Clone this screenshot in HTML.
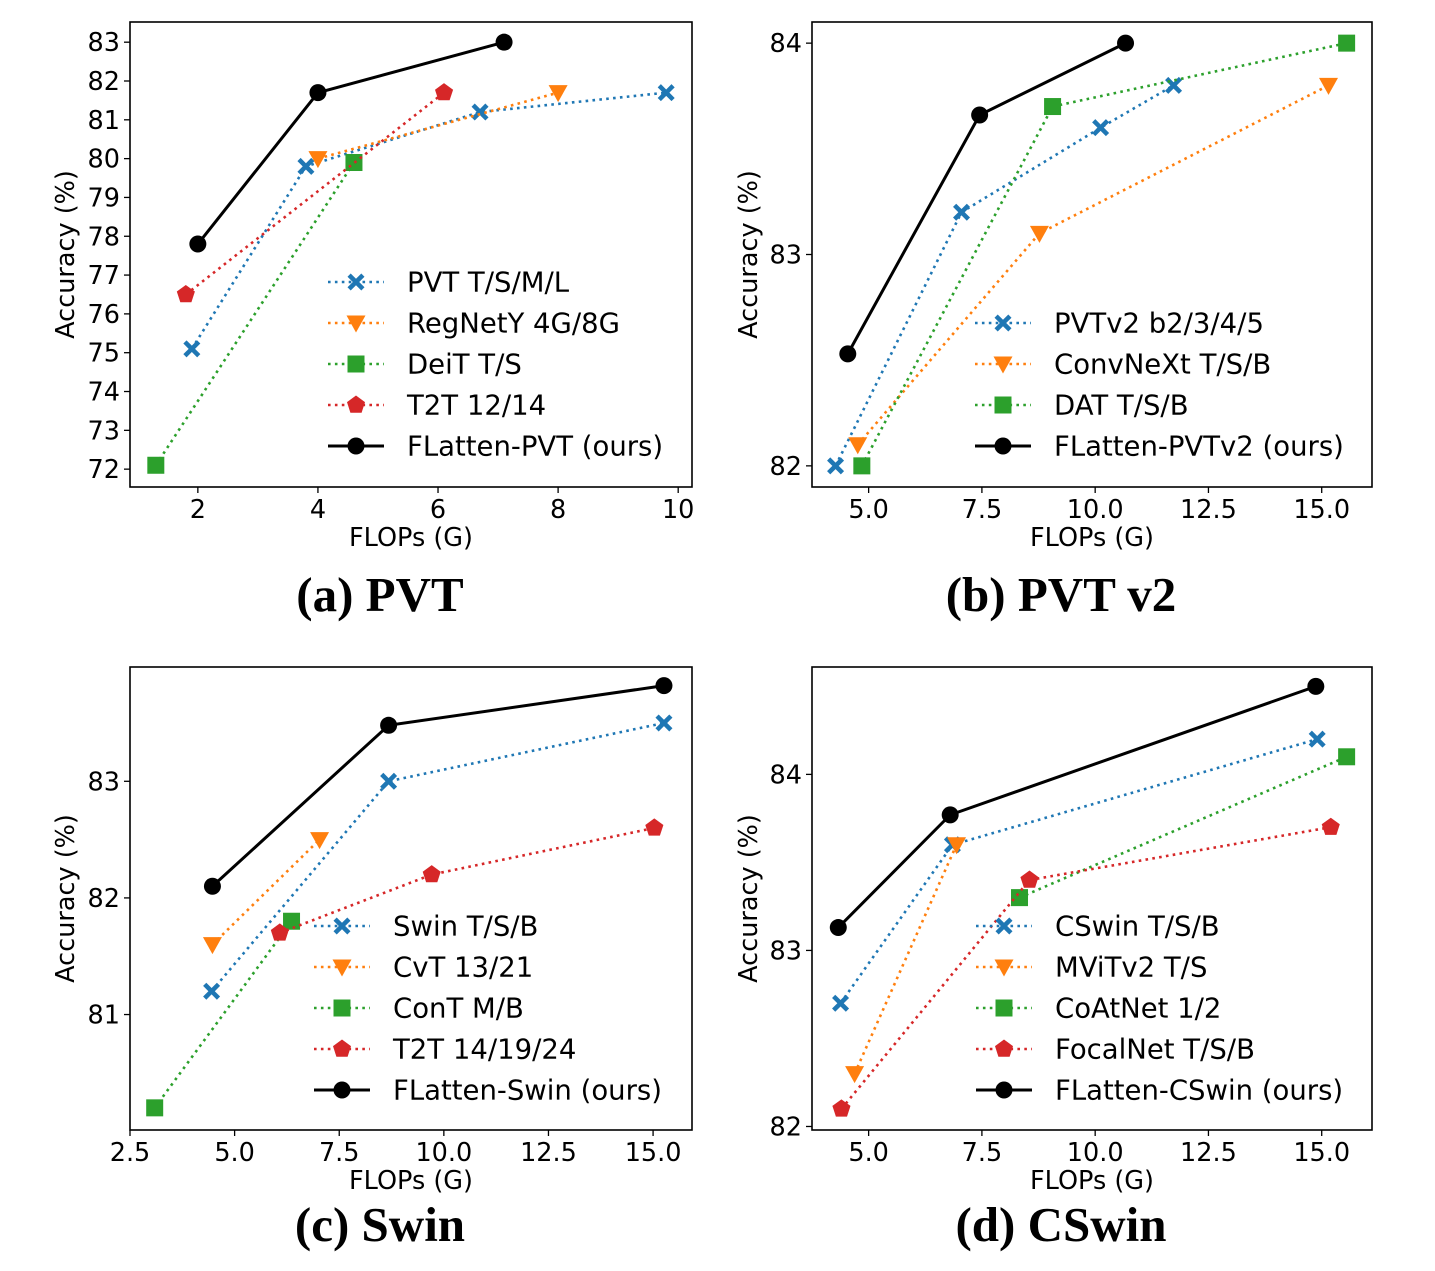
<!DOCTYPE html>
<html><head><meta charset="utf-8"><style>
html,body{margin:0;padding:0;background:#fff;}
svg text{font-family:"DejaVu Sans","Liberation Sans",sans-serif;}
.ttl{font-family:"Liberation Serif",serif;font-weight:bold;}
</style></head><body>
<svg id="fig" width="1435" height="1266" viewBox="0 0 1435 1266" xmlns="http://www.w3.org/2000/svg"></svg>
<script>
// ---- Panel (a) PVT data ----
const aNames = ["PVT T/S/M/L","RegNetY 4G/8G","DeiT T/S","T2T 12/14","FLatten-PVT (ours)"];
const aX = [[1.9,3.8,6.7,9.8],[4.0,8.0],[1.3,4.6],[1.8,6.1],[2.0,4.0,7.1]];
const aY = [[75.1,79.8,81.2,81.7],[80.0,81.7],[72.1,79.9],[76.5,81.7],[77.8,81.7,83.0]];
const aXTicks = [2,4,6,8,10];
const aYTicks = [72,73,74,75,76,77,78,79,80,81,82,83];
// ---- Panel (b) PVT v2 data ----
const bNames = ["PVTv2 b2/3/4/5","ConvNeXt T/S/B","DAT T/S/B","FLatten-PVTv2 (ours)"];
const bX = [[4.27,7.05,10.12,11.73],[4.76,8.77,15.15],[4.85,9.06,15.55],[4.54,7.45,10.67]];
const bY = [[82.0,83.2,83.6,83.8],[82.1,83.1,83.8],[82.0,83.7,84.0],[82.53,83.66,84.0]];
const bXTicks = [5.0,7.5,10.0,12.5,15.0];
const bYTicks = [82,83,84];
// ---- Panel (c) Swin data ----
const cNames = ["Swin T/S/B","CvT 13/21","ConT M/B","T2T 14/19/24","FLatten-Swin (ours)"];
const cX = [[4.45,8.68,15.26],[4.47,7.03],[3.09,6.36],[6.08,9.71,15.03],[4.47,8.68,15.26]];
const cY = [[81.2,83.0,83.5],[81.6,82.5],[80.2,81.8],[81.7,82.2,82.6],[82.1,83.48,83.82]];
const cXTicks = [2.5,5.0,7.5,10.0,12.5,15.0];
const cYTicks = [81,82,83];
// ---- Panel (d) CSwin data ----
const dNames = ["CSwin T/S/B","MViTv2 T/S","CoAtNet 1/2","FocalNet T/S/B","FLatten-CSwin (ours)"];
const dX = [[4.38,6.85,14.9],[4.69,6.94],[8.33,15.55],[4.4,8.55,15.2],[4.33,6.8,14.87]];
const dY = [[82.7,83.6,84.2],[82.3,83.6],[83.3,84.1],[82.1,83.4,83.7],[83.13,83.77,84.5]];
const dXTicks = [5.0,7.5,10.0,12.5,15.0];
const dYTicks = [82,83,84];

const NS="http://www.w3.org/2000/svg";
const svg=document.getElementById('fig');
function mk(tag,attrs,parent){const e=document.createElementNS(NS,tag);for(const k in attrs)e.setAttribute(k,attrs[k]);(parent||svg).appendChild(e);return e;}

function marker(g,kind,cx,cy,color){
  let e;
  if(kind==='X'){const s=8.5,w=3.2;
    const p=[[-s,-s+w],[-s+w,-s],[0,-w],[s-w,-s],[s,-s+w],[w,0],[s,s-w],[s-w,s],[0,w],[-s+w,s],[-s,s-w],[-w,0]];
    e=mk('polygon',{points:p.map(q=>(cx+q[0])+','+(cy+q[1])).join(' '),fill:color},g);}
  else if(kind==='v'){e=mk('polygon',{points:`${cx-9.5},${cy-7.5} ${cx+9.5},${cy-7.5} ${cx},${cy+9.5}`,fill:color},g);}
  else if(kind==='s'){e=mk('rect',{x:cx-8.5,y:cy-8.5,width:17,height:17,fill:color},g);}
  else if(kind==='p'){const r=9.5;let pts=[];for(let i=0;i<5;i++){const a=-Math.PI/2+i*2*Math.PI/5;pts.push((cx+r*Math.cos(a)).toFixed(1)+','+(cy+r*Math.sin(a)).toFixed(1));}
    e=mk('polygon',{points:pts.join(' '),fill:color},g);}
  else {e=mk('circle',{cx:cx,cy:cy,r:8.5,fill:color},g);}
  
  
}

function panel(o){
  const g=mk('g',{});
  
  
  const sx=v=>o.L+(v-o.x0)/(o.x1-o.x0)*(o.R-o.L);
  const sy=v=>o.B-(v-o.y0)/(o.y1-o.y0)*(o.B-o.T);
  o.names.forEach((n,i)=>{
    const st=o.styles[i];
    const pts=o.xs[i].map((x,j)=>sx(x)+','+sy(o.ys[i][j])).join(' ');
    const l=mk('polyline',{points:pts,fill:'none',stroke:st.c,'stroke-width':st.solid?3:2.6,'stroke-dasharray':st.solid?'none':'2.6,4.3'},g);
    
    
    o.xs[i].forEach((x,j)=>marker(g,st.m,sx(x),sy(o.ys[i][j]),st.c));
  });
  const box=mk('rect',{x:o.L,y:o.T,width:o.R-o.L,height:o.B-o.T,fill:'none',stroke:'#000','stroke-width':1.6},g);
  
  
  o.xt.forEach(t=>{const x=sx(t);mk('line',{x1:x,x2:x,y1:o.B,y2:o.B+6,stroke:'#000','stroke-width':1.3},g);
    const tx=mk('text',{x:x,y:o.B+31,'font-size':25.5,'text-anchor':'middle'},g);tx.textContent=o.xfmt(t);
    
    });
  o.yt.forEach(t=>{const y=sy(t);mk('line',{x1:o.L-6,x2:o.L,y1:y,y2:y,stroke:'#000','stroke-width':1.3},g);
    const tx=mk('text',{x:o.L-10,y:y+9,'font-size':25.5,'text-anchor':'end'},g);tx.textContent=String(t);
    
    });
  const xl=mk('text',{x:(o.L+o.R)/2,y:o.B+59,'font-size':25.5,'text-anchor':'middle'},g);xl.textContent='FLOPs (G)';
  
  
  const yl=mk('text',{x:0,y:0,'font-size':25.5,'text-anchor':'middle',transform:`translate(${o.ylx},${(o.T+o.B)/2}) rotate(-90)`},g);yl.textContent='Accuracy (%)';
  
  
  const n=o.names.length;
  o.names.forEach((nm,i)=>{
    const st=o.styles[i];const y=o.legY+(5-n+i)*41;
    mk('line',{x1:o.legX,x2:o.legX+56,y1:y,y2:y,stroke:st.c,'stroke-width':st.solid?3:2.6,'stroke-dasharray':st.solid?'none':'2.6,4.3'},g);
    marker(g,st.m,o.legX+28,y,st.c);
    const t=mk('text',{x:o.legX+79,y:y+9.5,'font-size':27.5},g);t.textContent=nm;
    
    
  });
  const tt=mk('text',{x:o.titleX,y:o.titleY,'font-size':49,'text-anchor':'middle',class:'ttl'},g);tt.textContent=o.title;
  
  
}
const B={c:'#1f77b4',m:'X'},O={c:'#ff7f0e',m:'v'},G={c:'#2ca02c',m:'s'},R={c:'#d62728',m:'p'},K={c:'#000',m:'o',solid:true};
panel({id:'pvt',L:130,R:692,T:22,B:487,x0:0.87,x1:10.23,y0:71.54,y1:83.52,names:aNames,xs:aX,ys:aY,xt:aXTicks,yt:aYTicks,xfmt:t=>String(t),styles:[B,O,G,R,K],legX:328,legY:282,ylx:74,title:'(a) PVT',titleX:380,titleY:611});
panel({id:'pvtv2',L:812,R:1372,T:22,B:487,x0:3.75,x1:16.11,y0:81.9,y1:84.1,names:bNames,xs:bX,ys:bY,xt:bXTicks,yt:bYTicks,xfmt:t=>t.toFixed(1),styles:[B,O,G,K],legX:975,legY:282,ylx:757,title:'(b) PVT v2',titleX:1061,titleY:611});
panel({id:'swin',L:130,R:692,T:667,B:1130,x0:2.5,x1:15.93,y0:80.01,y1:83.98,names:cNames,xs:cX,ys:cY,xt:cXTicks,yt:cYTicks,xfmt:t=>t.toFixed(1),styles:[B,O,G,R,K],legX:314,legY:926,ylx:74,title:'(c) Swin',titleX:380,titleY:1241});
panel({id:'cswin',L:812,R:1372,T:667,B:1130,x0:3.75,x1:16.11,y0:81.98,y1:84.61,names:dNames,xs:dX,ys:dY,xt:dXTicks,yt:dYTicks,xfmt:t=>t.toFixed(1),styles:[B,O,G,R,K],legX:976,legY:926,ylx:757,title:'(d) CSwin',titleX:1061,titleY:1241});
</script>
</body></html>
